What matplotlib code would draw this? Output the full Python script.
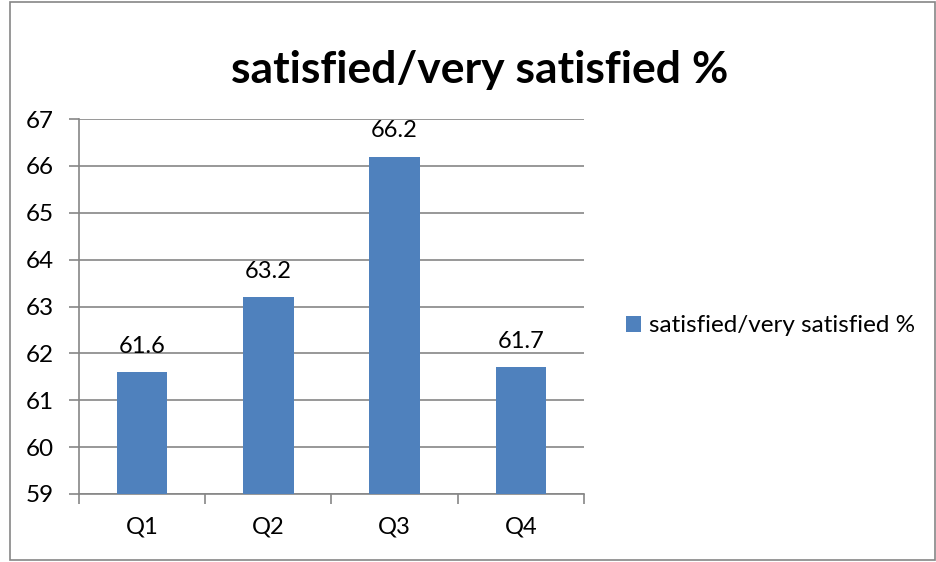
import matplotlib.pyplot as plt
import numpy as np
from matplotlib.patches import Rectangle

plt.rcParams["font.family"] = ["Lato", "DejaVu Sans"]

categories = ["Q1", "Q2", "Q3", "Q4"]
values = [61.6, 63.2, 66.2, 61.7]
series_name = "satisfied/very satisfied %"
bar_color = "#4F81BD"
grid_color = "#868686"

fig = plt.figure(figsize=(9.37, 5.62), dpi=100)
fig.patches.append(Rectangle((10 / 937, 2 / 562), 925 / 937, 558 / 562, transform=fig.transFigure,
                             fill=False, edgecolor=grid_color, linewidth=1.2))
ax = fig.add_axes([79 / 937, 1 - 494 / 562, (584 - 79) / 937, (494 - 119) / 562])

x = np.arange(len(categories))
ax.bar(x, values, width=0.4, color=bar_color, label=series_name, zorder=3)
for xi, v in zip(x, values):
    ax.annotate(f"{v}", (xi, v), xytext=(0, 14), textcoords="offset points",
                ha="center", va="baseline", fontsize=17)

ax.set_ylim(59, 67)
ax.set_xlim(-0.5, len(categories) - 0.5)
ax.set_yticks(range(59, 68))
ax.yaxis.grid(True, color=grid_color, linewidth=1.2, zorder=0)
ax.set_xticks(x)
ax.set_xticklabels(categories)
ax.set_xticks(np.arange(-0.5, len(categories)), minor=True)
ax.tick_params(axis="x", which="major", length=0, pad=16, labelsize=17)
ax.tick_params(axis="x", which="minor", length=7, color=grid_color, width=1.2)
ax.tick_params(axis="y", length=7, color=grid_color, width=1.2, labelsize=17.5, pad=11)
for side in ["top", "right"]:
    ax.spines[side].set_visible(False)
for side in ["left", "bottom"]:
    ax.spines[side].set_color(grid_color)
    ax.spines[side].set_linewidth(1.2)

fig.text(480 / 937, 1 - 83 / 562, series_name, ha="center", va="baseline", fontsize=32, fontweight="bold")
ax.legend(loc="center left", bbox_to_anchor=(626 / 937, 1 - 326 / 562), bbox_transform=fig.transFigure,
          frameon=False, fontsize=17.5, handlelength=0.6, handleheight=0.6, handletextpad=0.35,
          borderpad=0, borderaxespad=0)

fig.savefig("out.png", dpi=100)
